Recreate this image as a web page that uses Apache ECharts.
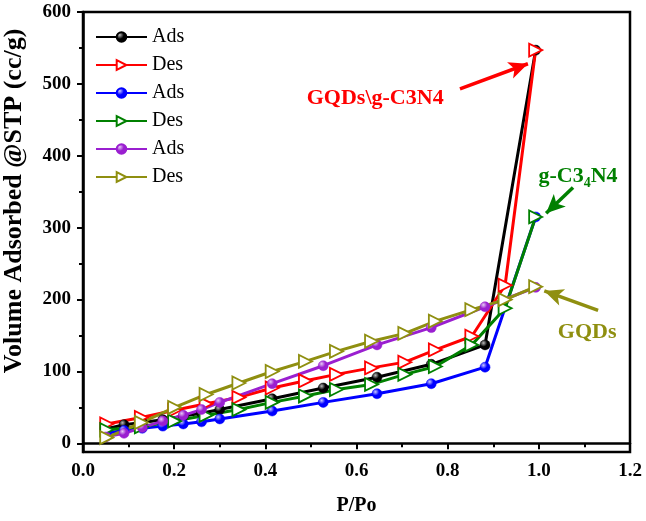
<!DOCTYPE html>
<html>
<head>
<meta charset="utf-8">
<script src="https://cdn.jsdelivr.net/npm/echarts@6/dist/echarts.min.js"></script>
<style>
  html, body { margin: 0; padding: 0; background: #fff; }
  #chart { width: 646px; height: 521px; }
</style>
</head>
<body>
<div id="chart"></div>
<script>
// relative pressure points (P/Po)
const adsP = [0.05, 0.09, 0.13, 0.175, 0.22, 0.26, 0.30, 0.415, 0.527, 0.645, 0.764, 0.882, 0.993];
const desP = [0.993, 0.926, 0.853, 0.773, 0.706, 0.633, 0.556, 0.488, 0.415, 0.342, 0.27, 0.201, 0.128, 0.052];

// volume adsorbed (cc/g)
const hybridAds = [20, 26, 29, 33, 38, 42, 47, 62, 77, 92, 110, 137, 547];
const hybridDes = [547, 220, 149, 130, 113, 105, 96, 87, 77, 64, 55, 46, 36, 27];
const cnAds = [14, 18, 21, 24, 27, 30, 34, 45, 57, 69, 83, 106, 315];
const cnDes = [315, 188, 137, 107, 96, 82, 75, 66, 57, 47, 39, 31, 23, 19];
const qdAds = [9, 14, 22, 31, 39, 47, 57, 83, 108, 137, 161, 190, 217];
const qdDes = [218, 200, 186, 170, 153, 142, 128, 114, 100, 84, 68, 50, 29, 8];

const yTicks = [0, 100, 200, 300, 400, 500, 600];
const yMinorTicks = [50, 150, 250, 350, 450, 550];

const FONT = 'Liberation Serif';
const chart = echarts.init(document.getElementById('chart'));

function pairs(xs, ys) {
  return xs.map((x, i) => [x, ys[i]]);
}

function sphere(color, light) {
  return {
    type: 'radial', x: 0.35, y: 0.32, r: 0.7,
    colorStops: [
      { offset: 0, color: light },
      { offset: 0.5, color: color },
      { offset: 1, color: color }
    ]
  };
}

function adsSeries(name, color, light, data) {
  return {
    name, type: 'line', data: pairs(adsP, data),
    symbol: 'circle', symbolSize: 10,
    lineStyle: { color, width: 3 },
    itemStyle: { color: sphere(color, light), borderColor: color, borderWidth: 0.5 }
  };
}

function desSeries(name, color, data, extra) {
  return Object.assign({
    name, type: 'line', data: pairs(desP, data),
    symbol: 'triangle', symbolSize: 13, symbolRotate: -90,
    lineStyle: { color, width: 3 },
    itemStyle: { color: '#fff', borderColor: color, borderWidth: 1.8 }
  }, extra);
}

function arrow(color, from, to) {
  return {
    silent: true, symbol: ['none', 'arrow'], symbolSize: [13, 19],
    lineStyle: { color, width: 3.5, type: 'solid' },
    label: { show: false },
    data: [[{ coord: from }, { coord: to }]]
  };
}

function note(color, at, text, rich) {
  return {
    silent: true, symbol: 'circle', symbolSize: 0,
    data: [{ coord: at }],
    label: {
      show: true, position: 'inside', formatter: text, color,
      fontFamily: FONT, fontWeight: 'bold', fontSize: 22, rich
    }
  };
}

const sub = { fontFamily: FONT, fontWeight: 'bold', fontSize: 14, color: '#008000', verticalAlign: 'bottom', padding: [14, 0, 0, 0] };
const norm = { fontFamily: FONT, fontWeight: 'bold', fontSize: 22, color: '#008000' };

chart.setOption({
  animation: false,
  backgroundColor: '#fff',
  grid: { left: 83, right: 16, top: 12, bottom: 67, show: true, borderColor: '#000', borderWidth: 2.5 },
  legend: {
    orient: 'vertical', left: 90, top: 22,
    itemWidth: 51, itemHeight: 12, itemGap: 8,
    formatter: n => n.trim(),
    textStyle: { fontFamily: FONT, fontSize: 20, color: '#000' }
  },
  xAxis: {
    type: 'value', min: 0, max: 1.2, interval: 0.2,
    name: 'P/Po', nameLocation: 'middle', nameGap: 44,
    nameTextStyle: { fontFamily: FONT, fontWeight: 'bold', fontSize: 20, color: '#000' },
    axisLine: { lineStyle: { color: '#000', width: 2.5 } },
    axisTick: { length: 6, lineStyle: { color: '#000', width: 2 } },
    minorTick: { show: true, splitNumber: 2, length: 4, lineStyle: { color: '#000', width: 2 } },
    splitLine: { show: false },
    axisLabel: {
      margin: 10, formatter: v => v.toFixed(1),
      fontFamily: FONT, fontWeight: 'bold', fontSize: 19, color: '#000'
    }
  },
  yAxis: [{
    type: 'value', min: -12, max: 600,
    axisLine: { show: true, lineStyle: { color: '#000', width: 2.5 } },
    axisTick: { show: true, customValues: yTicks, length: 6, lineStyle: { color: '#000', width: 2 } },
    splitLine: { show: false },
    axisLabel: {
      customValues: yTicks, margin: 12,
      fontFamily: FONT, fontWeight: 'bold', fontSize: 19, color: '#000'
    }
  }, {
    type: 'value', min: -12, max: 600, position: 'left', offset: 0,
    axisLine: { show: false },
    axisTick: { show: true, customValues: yMinorTicks, length: 4, lineStyle: { color: '#000', width: 2 } },
    axisLabel: { show: false },
    splitLine: { show: false }
  }],
  graphic: [{
    type: 'text', x: 14, y: 201, rotation: Math.PI / 2,
    style: {
      text: 'Volume Adsorbed @STP (cc/g)', fill: '#000',
      font: 'bold 26px "Liberation Serif"', align: 'center', verticalAlign: 'middle'
    }
  }],
  series: [
    adsSeries('Ads', '#000000', '#bbbbbb', hybridAds),
    desSeries('Des', '#ff0000', hybridDes, {
      markLine: arrow('#ff0000', [0.827, 493], [0.976, 528]),
      markPoint: note('#ff0000', [0.641, 480], 'GQDs\\g-C3N4')
    }),
    adsSeries('Ads ', '#0000ff', '#c8c8ff', cnAds),
    desSeries('Des ', '#008000', cnDes, {
      markLine: arrow('#008000', [1.075, 356], [1.016, 320]),
      markPoint: note('#008000', [1.086, 371], '{n|g-C3}{s|4}{n|N4}', { n: norm, s: sub })
    }),
    adsSeries('Ads  ', '#9a1fd0', '#e6c8f5', qdAds),
    desSeries('Des  ', '#8f8f10', qdDes, {
      markLine: arrow('#8f8f10', [1.13, 185], [1.012, 212]),
      markPoint: note('#8f8f10', [1.106, 155], 'GQDs')
    })
  ]
});
</script>
</body>
</html>
